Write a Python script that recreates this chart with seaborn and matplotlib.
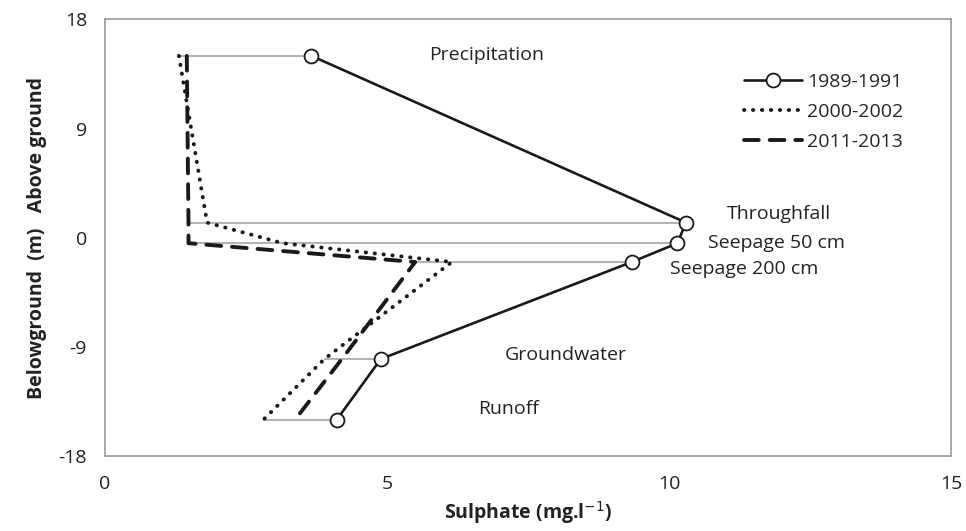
import numpy as np
import pandas as pd
import matplotlib
matplotlib.use("Agg")
import matplotlib.pyplot as plt
import seaborn as sns

# Sampling compartments and their height (m) relative to the ground surface
compartments = ["Precipitation", "Throughfall", "Seepage 50 cm", "Seepage 200 cm",
                "Groundwater", "Runoff"]
height = [15, 1.25, -0.45, -2, -10, -15]

# Mean sulphate concentrations (mg/l) per period
so4_1989_1991 = [3.66, 10.30, 10.15, 9.34, 4.89, 4.11]
so4_2000_2002 = [1.31, 1.81, 3.15, 6.15, 3.89, 2.81]
so4_2011_2013 = [1.45, 1.48, 1.48, 5.50, 4.20, 3.37]
periods = ["1989-1991", "2000-2002", "2011-2013"]

x_ticks = [0, 5, 10, 15]
y_ticks = [-18, -9, 0, 9, 18]

frames = []
for name, vals in zip(periods, [so4_1989_1991, so4_2000_2002, so4_2011_2013]):
    frames.append(pd.DataFrame({"period": name, "compartment": compartments,
                                "height": height, "sulphate": vals, "order": range(len(vals))}))
df = pd.concat(frames, ignore_index=True)

sns.set_theme(style="white")
plt.rcParams["font.family"] = ["Open Sans", "DejaVu Sans"]
plt.rcParams["axes.unicode_minus"] = False

fig = plt.figure(figsize=(9.66, 5.31), dpi=100)
ax = fig.add_axes([105 / 966, 1 - 456 / 531, (951 - 105) / 966, (456 - 19.5) / 531])

# Grey connectors spanning the range of the three periods at each compartment
wide = df.pivot(index="height", columns="period", values="sulphate")
ax.hlines(wide.index, wide.min(axis=1), wide.max(axis=1), color="#b4b4b4", lw=1.5, zorder=1)

styles = {
    "1989-1991": dict(ls="-", lw=1.9, marker="o", ms=10, mfc="white", mec="#1a1a1a", mew=1.3),
    "2000-2002": dict(ls=(0, (0.1, 2.2)), lw=2.8, marker=None),
    "2011-2013": dict(ls=(0, (3.8, 2.8)), lw=2.8, marker=None),
}
for name in periods:
    sub = df[df["period"] == name].sort_values("order")
    sns.lineplot(data=sub, x="sulphate", y="height", sort=False, estimator=None,
                 color="#1a1a1a", ax=ax, label=name, zorder=3, **styles[name])
    if name != "1989-1991":
        ax.lines[-1].set_dash_capstyle("round")

ax.set_xlim(0, 15)
ax.set_ylim(-18, 18)
ax.set_xticks(x_ticks)
ax.set_yticks(y_ticks)
ax.tick_params(axis="both", labelsize=14, colors="#222222", length=5, width=1,
               direction="out", color="#9a9a9a", pad=8)
ax.tick_params(axis="x", pad=9)
for sp in ax.spines.values():
    sp.set_color("#9a9a9a")
    sp.set_linewidth(1.2)

ax.set_xlabel("Sulphate (mg.l$^{-1}$)", fontsize=14, fontweight="bold", color="#222222", labelpad=4)
ax.set_ylabel("Belowground  (m)   Above ground", fontsize=14, fontweight="bold",
              color="#222222", labelpad=8)

# Compartment annotations
labels = {
    "Precipitation": (5.75, 15.1),
    "Throughfall": (11.03, 1.95),
    "Seepage 50 cm": (10.69, -0.4),
    "Seepage 200 cm": (10.02, -2.55),
    "Groundwater": (7.09, -9.7),
    "Runoff": (6.61, -14.1),
}
for txt, (lx, ly) in labels.items():
    ax.text(lx, ly, txt, fontsize=14, ha="left", va="center", color="#222222")

leg = ax.legend(loc="upper left", bbox_to_anchor=(0.746, 0.895), frameon=False, fontsize=14,
                handlelength=3.0, handletextpad=0.25, labelspacing=0.62, borderaxespad=0)

fig.savefig("out.png", dpi=100)
